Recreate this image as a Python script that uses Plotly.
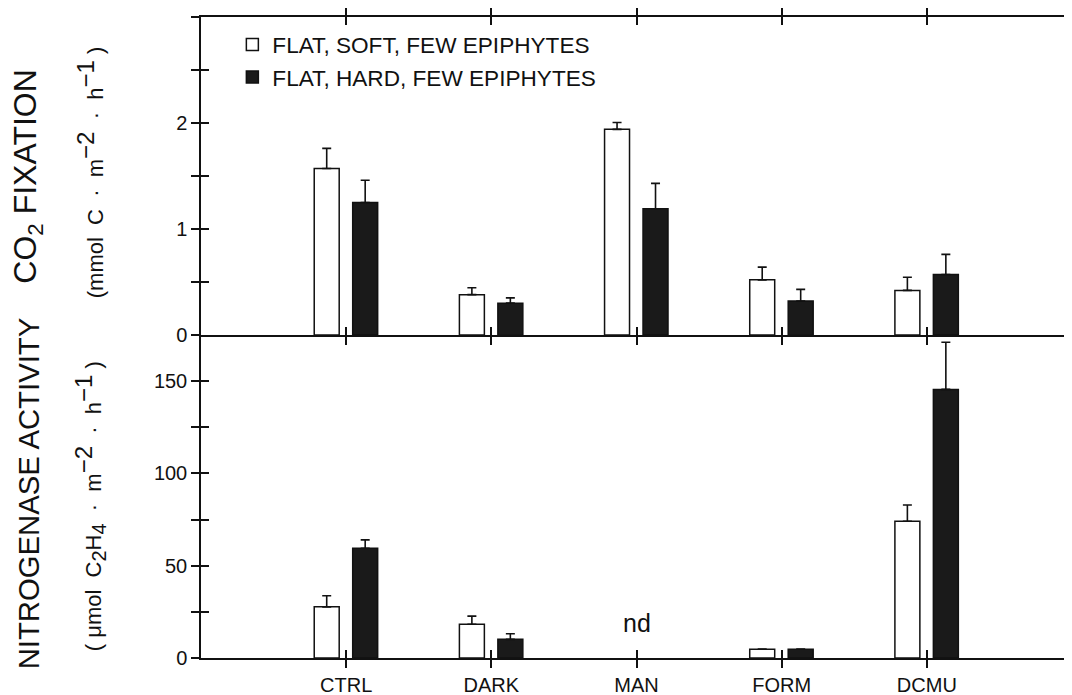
import plotly.graph_objects as go

# ---------------- data ----------------
categories = ["CTRL", "DARK", "MAN", "FORM", "DCMU"]
series_names = ["FLAT, SOFT, FEW EPIPHYTES", "FLAT, HARD, FEW EPIPHYTES"]

co2_soft = [1.57, 0.38, 1.94, 0.52, 0.42]
co2_soft_err = [0.19, 0.065, 0.065, 0.12, 0.125]
co2_hard = [1.25, 0.30, 1.19, 0.32, 0.57]
co2_hard_err = [0.21, 0.05, 0.24, 0.11, 0.19]

n2_soft = [27.7, 18.3, None, 4.8, 74.1]
n2_soft_err = [6.0, 4.4, None, 0.0, 8.8]
n2_hard = [59.4, 10.1, None, 4.8, 145.5]
n2_hard_err = [4.6, 3.0, None, 0.0, 25.5]

co2_ticks = [0, 1, 2, 3]
co2_ticktext = ["0", "1", "2", ""]
n2_ticks = [0, 50, 100, 150]
n2_ticktext = ["0", "50", "100", "150"]
nd_label = "nd"

# ---------------- style ----------------
FONT = "Liberation Sans, Arial, sans-serif"
BLACK = "#111111"
fills = ["white", "#1a1a1a"]
offsets = [-0.22, 0.045]
BAR_W = 0.172
LW = 1.5

fig = go.Figure()

panels = [
    (co2_soft, co2_soft_err, co2_hard, co2_hard_err, "x", "y", True),
    (n2_soft, n2_soft_err, n2_hard, n2_hard_err, "x2", "y2", False),
]
for s_vals, s_err, h_vals, h_err, xa, ya, show in panels:
    for i, (vals, errs) in enumerate([(s_vals, s_err), (h_vals, h_err)]):
        fig.add_trace(go.Bar(
            x=categories, y=vals, name=series_names[i],
            xaxis=xa, yaxis=ya, showlegend=show, legendgroup=series_names[i],
            width=BAR_W, offset=offsets[i],
            marker=dict(color=fills[i], line=dict(color=BLACK, width=LW)),
            error_y=dict(type="data", symmetric=False, array=errs,
                         arrayminus=[0 if e is not None else None for e in errs],
                         color=BLACK, thickness=1.6, width=4.5),
        ))

axis_common = dict(showgrid=False, zeroline=False, linecolor=BLACK, tickcolor=BLACK,
                   automargin=False,
                   tickfont=dict(family=FONT, size=20, color=BLACK))
XR = [-1, 5]
TOP_DOM = [0.504, 1.0]
BOT_DOM = [0.0, 0.504]
xtick_pos = [-1, 0, 1, 2, 3, 4]

# the page body has an 8px margin, so the figure is 8px smaller than the window
fig.update_layout(
    width=1064, height=687,
    margin=dict(l=193, r=0, t=9, b=37),
    paper_bgcolor="white", plot_bgcolor="white",
    barmode="group",
    font=dict(family=FONT, color=BLACK),
    # top panel
    xaxis=dict(**axis_common, domain=[0, 1], anchor="y", type="category",
               categoryorder="array", categoryarray=categories, range=XR,
               showline=True, linewidth=LW, mirror="ticks",
               ticks="outside", ticklen=8, tickwidth=LW, showticklabels=False),
    xaxis3=dict(**axis_common, overlaying="x", anchor="y", type="linear", range=XR,
                showline=False, mirror="ticks", tickmode="array", tickvals=xtick_pos,
                ticks="inside", ticklen=8, tickwidth=LW, showticklabels=False),
    yaxis=dict(**axis_common, domain=TOP_DOM, anchor="x", range=[0, 3],
               showline=True, linewidth=LW, tickmode="array", tickvals=co2_ticks,
               ticktext=co2_ticktext, ticks="outside", ticklen=8, tickwidth=LW,
               minor=dict(tickvals=[0.5, 1.5, 2.5], ticks="outside", ticklen=8,
                          tickwidth=LW, tickcolor=BLACK)),
    yaxis3=dict(**axis_common, overlaying="y", anchor="x", side="left", range=[0, 3],
                showline=False, tickmode="array", tickvals=[0.5, 1, 1.5, 2, 2.5, 3],
                ticks="inside", ticklen=8, tickwidth=LW, showticklabels=False),
    yaxis5=dict(**axis_common, overlaying="y", anchor="x", side="right", range=[0, 3],
                showline=False, tickmode="array", tickvals=[0.5, 1, 1.5, 2, 2.5],
                ticks="inside", ticklen=6, tickwidth=LW, showticklabels=False),
    # bottom panel
    xaxis2=dict(**axis_common, domain=[0, 1], anchor="y2", type="category",
                categoryorder="array", categoryarray=categories, range=XR,
                showline=True, linewidth=LW, ticks="outside", ticklen=8, tickwidth=LW),
    xaxis4=dict(**axis_common, overlaying="x2", anchor="y2", type="linear", range=XR,
                showline=False, tickmode="array", tickvals=xtick_pos,
                ticks="inside", ticklen=8, tickwidth=LW, showticklabels=False),
    yaxis2=dict(**axis_common, domain=BOT_DOM, anchor="x2", range=[0, 175],
                showline=True, linewidth=LW, tickmode="array", tickvals=n2_ticks,
                ticktext=n2_ticktext, ticks="outside", ticklen=8, tickwidth=LW,
                minor=dict(tickvals=[25, 75, 125], ticks="outside", ticklen=8,
                           tickwidth=LW, tickcolor=BLACK)),
    yaxis4=dict(**axis_common, overlaying="y2", anchor="x2", side="left", range=[0, 175],
                showline=False, tickmode="array", tickvals=[25, 50, 75, 100, 125, 150],
                ticks="inside", ticklen=8, tickwidth=LW, showticklabels=False),
    yaxis6=dict(**axis_common, overlaying="y2", anchor="x2", side="right", range=[0, 175],
                showline=False, tickmode="array", tickvals=[25, 50, 75, 100, 125, 150],
                ticks="inside", ticklen=6, tickwidth=LW, showticklabels=False),
    legend=dict(x=0.036, y=0.99, xanchor="left", yanchor="top",
                bgcolor="rgba(0,0,0,0)", font=dict(family=FONT, size=22.6, color=BLACK),
                tracegroupgap=0, itemwidth=30),
)

# empty helper traces so the overlay tick axes get drawn
for xa, ya in [("x3", "y3"), ("x3", "y5"), ("x4", "y4"), ("x4", "y6")]:
    fig.add_trace(go.Scatter(x=[None], y=[None], xaxis=xa, yaxis=ya,
                             showlegend=False, hoverinfo="skip", mode="markers"))

NB = "\u00a0"
SUP = '<sup><span style="font-size:24px">{}</span></sup>'
SUB = '<sub><span style="font-size:20px">{}</span></sub>'
top_unit = ("(mmol" + NB * 2 + "C" + NB * 2 + "·" + NB * 2 + "m" + SUP.format("−2")
            + NB * 2 + "·" + NB * 2 + "h" + SUP.format("−1") + NB + ")")
bot_unit = ("(" + NB + "μmol" + NB * 2 + "C" + SUB.format("2") + "H" + SUB.format("4")
            + NB * 2 + "·" + NB * 2 + "m" + SUP.format("−2")
            + NB * 2 + "·" + NB * 2 + "h" + SUP.format("−1") + NB + ")")

annotations = [
    dict(text="NITROGENASE ACTIVITY", x=-0.1985, y=0.257,
         font=dict(family=FONT, size=29.3, color=BLACK)),
    dict(text="CO<sub>2</sub> FIXATION", x=-0.1985, y=0.751,
         font=dict(family=FONT, size=32, color=BLACK)),
    dict(text=top_unit, x=-0.128, y=0.757, font=dict(family=FONT, size=22, color=BLACK)),
    dict(text=bot_unit, x=-0.128, y=0.236, font=dict(family=FONT, size=22, color=BLACK)),
]
for a in annotations:
    fig.add_annotation(xref="paper", yref="paper", textangle=-90, showarrow=False,
                       xanchor="center", yanchor="middle", **a)

fig.add_annotation(xref="x2", yref="y2", x="MAN", y=19, text=nd_label, showarrow=False,
                   font=dict(family=FONT, size=25, color=BLACK))

fig.write_html("out.html")
